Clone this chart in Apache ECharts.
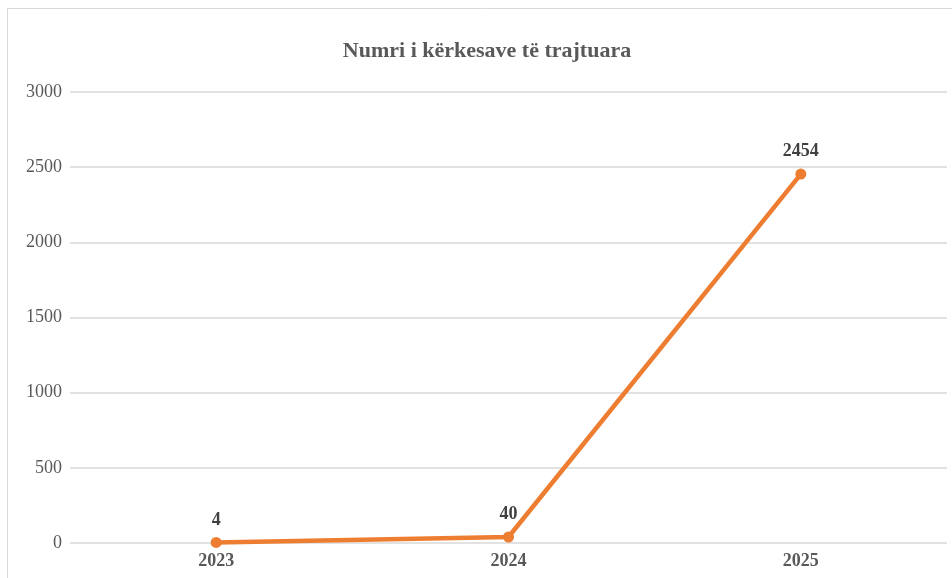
<!DOCTYPE html>
<html>
<head>
<meta charset="utf-8">
<script src="https://cdn.jsdelivr.net/npm/echarts@6/dist/echarts.min.js"></script>
<style>
  body { margin: 0; background: #fff; }
  #chart { width: 952px; height: 578px; }
</style>
</head>
<body>
<div id="chart"></div>
<script>
  // data
  var years = ['2023', '2024', '2025'];
  var requests = [4, 40, 2454];

  var myChart = echarts.init(document.getElementById('chart'));

  var option = {
    backgroundColor: '#fff',
    textStyle: { fontFamily: 'Liberation Serif' },
    graphic: [{
      type: 'rect',
      shape: { x: 7.5, y: 8.5, width: 1000, height: 1000 },
      style: { fill: 'none', stroke: '#d9d9d9', lineWidth: 1 },
      silent: true
    }],
    title: {
      text: 'Numri i kërkesave të trajtuara',
      left: 487,
      top: 35,
      textAlign: 'center',
      textStyle: {
        fontFamily: 'Liberation Serif',
        fontSize: 22,
        fontWeight: 'bold',
        color: '#595959'
      }
    },
    grid: {
      left: 70,
      right: 5,
      top: 92,
      bottom: 35
    },
    xAxis: {
      type: 'category',
      data: years,
      boundaryGap: true,
      axisLine: { show: false },
      axisTick: { show: false },
      axisLabel: {
        margin: 9,
        fontFamily: 'Liberation Serif',
        fontSize: 18,
        fontWeight: 'bold',
        color: '#595959'
      }
    },
    yAxis: {
      type: 'value',
      min: 0,
      max: 3000,
      interval: 500,
      axisLine: { show: false },
      axisTick: { show: false },
      axisLabel: {
        margin: 8,
        formatter: function (v) { return String(v); },
        fontFamily: 'Liberation Serif',
        fontSize: 18,
        color: '#595959'
      },
      splitLine: { lineStyle: { color: '#d9d9d9', width: 1.5 } }
    },
    series: [{
      type: 'line',
      data: requests,
      symbol: 'circle',
      symbolSize: 11,
      lineStyle: { color: '#ed7d31', width: 4.5 },
      itemStyle: { color: '#ed7d31' },
      label: {
        show: true,
        position: 'top',
        distance: 8,
        fontFamily: 'Liberation Serif',
        fontSize: 18,
        fontWeight: 'bold',
        color: '#404040'
      }
    }]
  };

  // nudge title slightly left to line up with reference
  option.title.left = 482;

  myChart.setOption(option);
</script>
</body>
</html>
